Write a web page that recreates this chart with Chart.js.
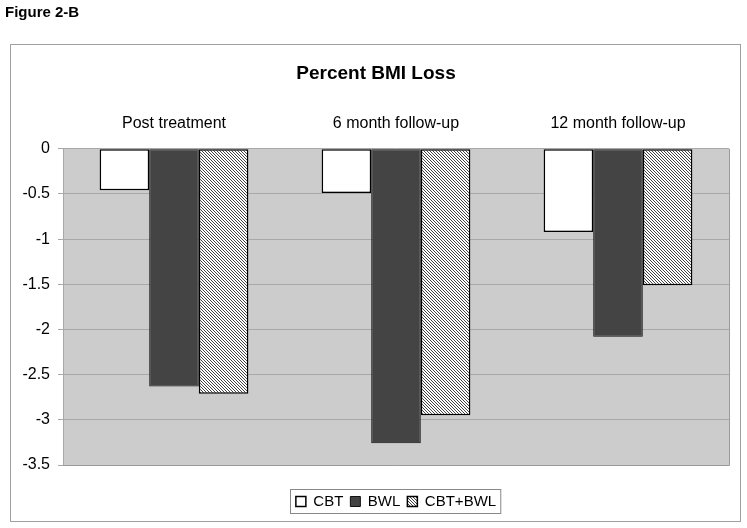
<!DOCTYPE html>
<html>
<head>
  <title>Percent BMI Loss</title>
  <script src="https://cdn.jsdelivr.net/npm/chart.js"></script>
  <style>
    html, body { margin: 0; padding: 0; background: #fff; }
    #wrap { position: relative; width: 747px; height: 528px; }
    #fig { position: absolute; left: 5px; top: 3px; font: bold 15px "Liberation Sans", Arial, sans-serif; }
    canvas { position: absolute; left: 0; top: 0; }
  </style>
</head>
<body>
  <div id="wrap">
    <canvas id="bmiChart" width="747" height="528"></canvas>
    <div id="fig">Figure 2-B</div>
  </div>

  <script>
    const categories = ['Post treatment', '6 month follow-up', '12 month follow-up'];
    const cbt = [-0.46, -0.49, -0.92];
    const bwl = [-2.63, -3.26, -2.08];
    const cbtBwl = [-2.71, -2.95, -1.51];

    // diagonal hatch for CBT+BWL, drawn pixel by pixel
    function hatch() {
      const c = document.createElement('canvas');
      c.width = 3; c.height = 3;
      const g = c.getContext('2d');
      g.fillStyle = '#fff';
      g.fillRect(0, 0, 3, 3);
      g.fillStyle = '#444';
      for (let i = 0; i < 3; i++) g.fillRect(i, i, 1, 1);
      return g.createPattern(c, 'repeat');
    }

    const frame = {
      id: 'frame',
      afterLayout(chart) {
        // Excel put the legend a bit right of centre and lower
        const lg = chart.legend;
        lg.left += 20; lg.right += 20;
        lg.top += 22; lg.bottom += 22;
      },
      beforeDraw(chart) {
        const ctx = chart.ctx;
        const a = chart.chartArea;
        ctx.save();
        ctx.strokeStyle = '#a0a0a0';
        ctx.lineWidth = 1;
        ctx.strokeRect(10.5, 44.5, 730, 477);
        ctx.fillStyle = '#cccccc';
        ctx.fillRect(a.left, a.top, a.right - a.left, a.bottom - a.top);
        ctx.restore();
      },
      afterDraw(chart) {
        const ctx = chart.ctx;
        const a = chart.chartArea;
        ctx.save();
        ctx.strokeStyle = '#9a9a9a';
        ctx.lineWidth = 1;
        ctx.beginPath();
        ctx.moveTo(a.right + 0.5, a.top);
        ctx.lineTo(a.right + 0.5, a.bottom + 0.5);
        ctx.lineTo(a.left, a.bottom + 0.5);
        ctx.stroke();
        // box round the legend
        const boxes = chart.legend.legendHitBoxes;
        if (boxes && boxes.length) {
          const l = Math.min(...boxes.map(b => b.left));
          const r = Math.max(...boxes.map(b => b.left + b.width));
          const t = Math.min(...boxes.map(b => b.top));
          const btm = Math.max(...boxes.map(b => b.top + b.height));
          ctx.strokeStyle = '#888';
          ctx.strokeRect(Math.round(l) - 5.5, Math.round(t) - 4.5, r - l + 10, btm - t + 9);
        }
        ctx.restore();
      }
    };

    const ctx = document.getElementById('bmiChart').getContext('2d');
    const chart = new Chart(ctx, {
      type: 'bar',
      data: {
        labels: categories,
        datasets: [
          { label: 'CBT', data: cbt, backgroundColor: '#ffffff', borderColor: '#000', borderWidth: 1.5 },
          { label: 'BWL', data: bwl, backgroundColor: '#444444', borderColor: '#111', borderWidth: 1 },
          { label: 'CBT+BWL', data: cbtBwl, backgroundColor: hatch(), borderColor: '#000', borderWidth: 1.5 }
        ]
      },
      plugins: [frame],
      options: {
        responsive: false,
        animation: false,
        layout: { padding: { left: 23, right: 18, top: 0, bottom: 31 } },
        datasets: {
          bar: { categoryPercentage: 0.67, barPercentage: 1, borderSkipped: false }
        },
        plugins: {
          title: {
            display: true,
            text: 'Percent BMI Loss',
            color: '#000',
            font: { family: 'Liberation Sans', size: 19, weight: 'bold' },
            padding: { top: 62, bottom: 24 }
          },
          legend: {
            position: 'bottom',
            labels: {
              color: '#000',
              font: { family: 'Liberation Sans', size: 15 },
              boxWidth: 10,
              boxHeight: 10,
              padding: 7
            }
          },
          tooltip: { enabled: false }
        },
        scales: {
          x: {
            position: 'top',
            grid: { display: false, drawTicks: false },
            border: { display: false },
            ticks: { color: '#000', font: { family: 'Liberation Sans', size: 16 }, padding: 16 },
            afterFit(s) { s.height = 40; }
          },
          y: {
            min: -3.5,
            max: 0,
            ticks: {
              stepSize: 0.5,
              color: '#000',
              font: { family: 'Liberation Sans', size: 16 },
              padding: 8,
              callback: v => String(v)
            },
            grid: { color: '#a8a8a8', tickLength: 5 },
            border: { color: '#a8a8a8' },
            afterFit(s) { s.width = 40; }
          }
        }
      }
    });
  </script>
</body>
</html>
